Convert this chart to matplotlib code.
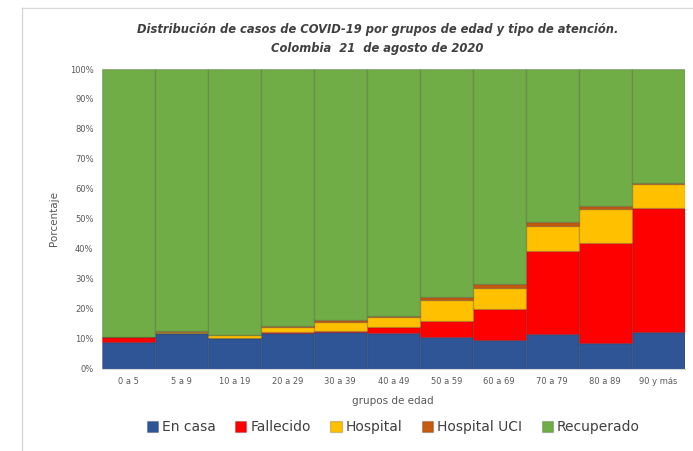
import matplotlib.pyplot as plt
from matplotlib.lines import Line2D
from matplotlib.ticker import PercentFormatter
import numpy as np

grupos = ['0 a 5', '5 a 9', '10 a 19', '20 a 29', '30 a 39', '40 a 49',
          '50 a 59', '60 a 69', '70 a 79', '80 a 89', '90 y más']

en_casa = [9.1, 11.9, 10.2, 12.1, 12.4, 11.9, 10.6, 9.7, 11.6, 8.6, 12.4]
fallecido = [1.4, 0.1, 0.1, 0.3, 0.3, 2.2, 5.5, 10.3, 27.8, 33.5, 41.4]
hospital = [0.1, 0.3, 0.9, 1.7, 3.1, 3.3, 6.9, 6.9, 8.3, 11.2, 7.9]
hospital_uci = [0.1, 0.2, 0.2, 0.3, 0.4, 0.4, 1.1, 1.4, 1.2, 1.1, 0.3]
recuperado = [89.3, 87.5, 88.6, 85.6, 83.8, 82.2, 75.9, 71.7, 51.1, 45.6, 38.0]

series = [('En casa', en_casa, '#2F5597'),
          ('Fallecido', fallecido, '#FF0000'),
          ('Hospital', hospital, '#FFC000'),
          ('Hospital UCI', hospital_uci, '#C55A11'),
          ('Recuperado', recuperado, '#70AD47')]

fig = plt.figure(figsize=(6.93, 4.51), dpi=100)
ax = fig.add_axes([0.147, 0.182, 0.841, 0.665])

x = np.arange(len(grupos))
bottom = np.zeros(len(grupos))
for name, vals, col in series:
    ax.bar(x, vals, width=1.0, bottom=bottom, color=col, label=name,
           edgecolor=(0, 0, 0, 0.18), linewidth=0.9)
    bottom += np.array(vals)

ax.set_xlim(-0.5, len(grupos) - 0.5)
ax.set_ylim(0, 100)
ax.set_yticks(range(0, 101, 10))
ax.yaxis.set_major_formatter(PercentFormatter(decimals=0))
ax.set_xticks(x)
ax.set_xticklabels(grupos)
ax.tick_params(axis='both', length=0, labelsize=6, colors='#595959', pad=6)

for s in ['top', 'right', 'left']:
    ax.spines[s].set_visible(False)
ax.spines['bottom'].set_color('#d9d9d9')

ax.set_xlabel('grupos de edad', fontsize=7.5, color='#595959', labelpad=7)
ax.set_ylabel('Porcentaje', fontsize=7.5, color='#595959', labelpad=8)

fig.text(0.545, 0.935, 'Distribución de casos de COVID-19 por grupos de edad y tipo de atención.',
         ha='center', va='center', fontsize=8.3, style='italic', weight='bold', color='#404040')
fig.text(0.545, 0.893, 'Colombia  21  de agosto de 2020',
         ha='center', va='center', fontsize=8.3, style='italic', weight='bold', color='#404040')

ax.legend(loc='center', bbox_to_anchor=(0.5, -0.195), ncol=5, frameon=False,
          fontsize=10, handlelength=0.8, handleheight=0.8, handletextpad=0.3,
          columnspacing=1.4, labelcolor='#404040', borderaxespad=0)

# marco del grafico
fig.add_artist(Line2D([22 / 693, 22 / 693], [0, 1 - 8 / 451], color='#d9d9d9', lw=1))
fig.add_artist(Line2D([22 / 693, 1], [1 - 8 / 451, 1 - 8 / 451], color='#d9d9d9', lw=1))

plt.savefig('out.png')
